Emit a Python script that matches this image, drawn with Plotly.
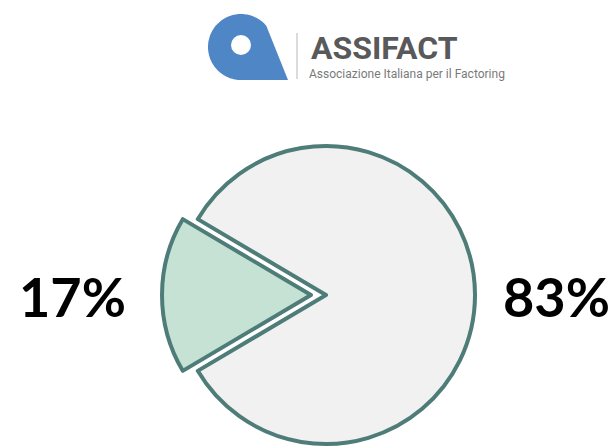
import numpy as np
import plotly.graph_objects as go

# Share of the two groups (percent)
labels = ["Quota A", "Quota B"]
values = [17, 83]
fills = ["#c5e2d5", "#f1f1f1"]
edge = "#4e7c78"

W, H = 613, 447
cx, cy, r = 326, 295, 149          # pie centre and radius in px
pull_px = 15                        # sideways offset of the small slice
rotation = 239.4                    # first slice centred on 9 o'clock

def dom(x0, x1, y0, y1):
    return dict(x=[x0 / W, x1 / W], y=[1 - y1 / H, 1 - y0 / H])

fig = go.Figure()

# large slice (small slice left invisible)
fig.add_trace(go.Pie(
    labels=labels, values=values, sort=False, direction="clockwise",
    rotation=rotation, textinfo="none", hoverinfo="label+percent",
    showlegend=False,
    marker=dict(colors=["rgba(0,0,0,0)", fills[1]],
                line=dict(color=edge, width=[0, 4])),
    domain=dom(cx - r, cx + r, cy - r, cy + r),
))

# small slice, pulled out to the left
fig.add_trace(go.Pie(
    labels=labels, values=values, sort=False, direction="clockwise",
    rotation=rotation, textinfo="none", hoverinfo="label+percent",
    showlegend=False,
    marker=dict(colors=[fills[0], "rgba(0,0,0,0)"],
                line=dict(color=edge, width=[4, 0])),
    domain=dom(cx - r - pull_px, cx + r - pull_px, cy - r, cy + r),
))

# percentage labels either side of the pie
label_pos = [(72, 296), (556, 296)]
for v, (lx, ly) in zip(values, label_pos):
    fig.add_annotation(x=lx, y=ly, xref="x", yref="y", text=f"{v}%",
                       showarrow=False, xanchor="center", yanchor="middle",
                       font=dict(family="Lato", size=54, color="#000000",
                                 weight=700))

# ASSIFACT logo mark: round "a" with a tail
lcx, lcy, lr = 241, 47, 33
ang = np.linspace(np.deg2rad(-40), np.deg2rad(90) - 2 * np.pi, 90)
pts = [(lcx + lr * np.cos(a), lcy + lr * np.sin(a)) for a in ang]
pts += [(288, 80)]
path = "M " + " L ".join(f"{x:.1f},{y:.1f}" for x, y in pts) + " Z"
fig.add_shape(type="path", path=path, xref="x", yref="y",
              fillcolor="#4f86c6", line=dict(width=0))
fig.add_shape(type="circle", xref="x", yref="y", x0=231, x1=251, y0=35, y1=55,
              fillcolor="white", line=dict(width=0))
fig.add_shape(type="line", xref="x", yref="y", x0=297, x1=297, y0=33, y1=79,
              line=dict(color="#cfcfcf", width=1.5))
fig.add_annotation(x=309, y=48, xref="x", yref="y", text="ASSIFACT",
                   showarrow=False, xanchor="left", yanchor="middle",
                   font=dict(family="Roboto", size=32, color="#58595b",
                             weight=700))
fig.add_annotation(x=307, y=74, xref="x", yref="y",
                   text="Associazione Italiana per il Factoring",
                   showarrow=False, xanchor="left", yanchor="middle",
                   font=dict(family="Roboto", size=12, color="#7a7a7a"))

fig.update_layout(
    width=W, height=H, margin=dict(l=0, r=0, t=0, b=0),
    paper_bgcolor="white", plot_bgcolor="rgba(0,0,0,0)",
    xaxis=dict(range=[0, W], visible=False, fixedrange=True),
    yaxis=dict(range=[H, 0], visible=False, fixedrange=True),
)

fig.write_html("out.html")
